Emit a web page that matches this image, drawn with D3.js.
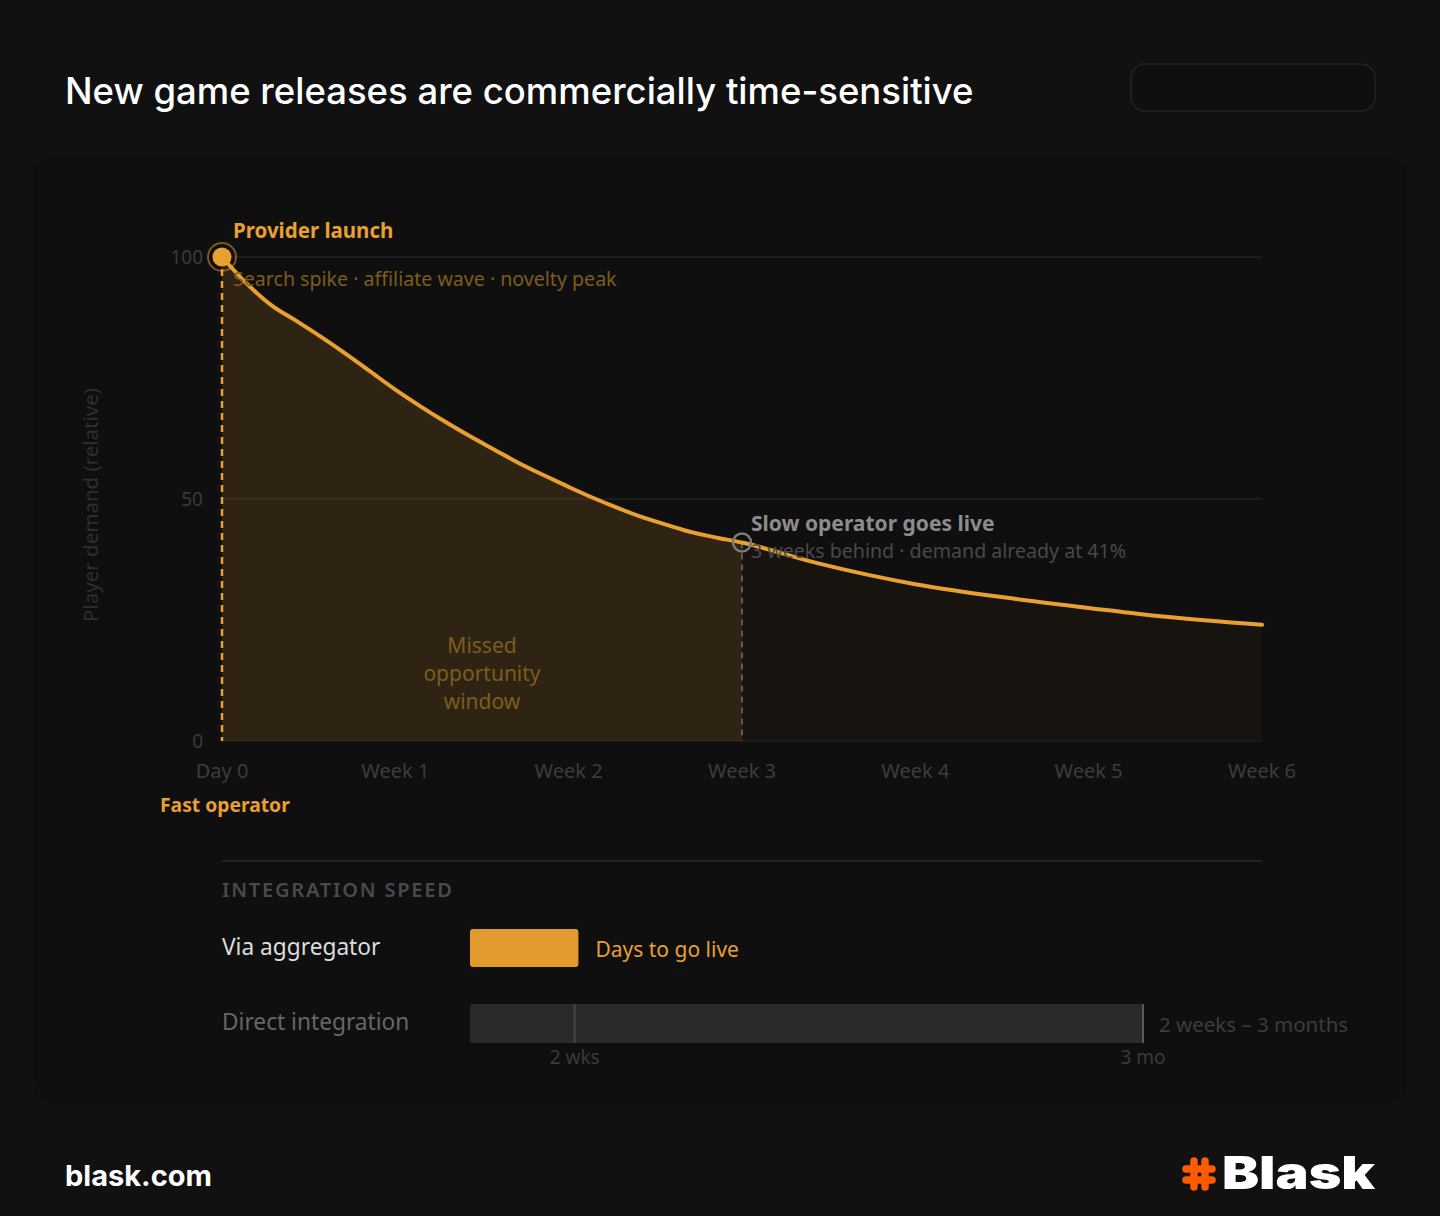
<!DOCTYPE html>
<html>
<head>
<meta charset="utf-8">
<script src="https://cdn.jsdelivr.net/npm/d3@7.9.0/dist/d3.min.js"></script>
<style>
  body { margin: 0; background: #111111; }
  svg { display: block; }
  text { font-family: "Noto Sans", "Open Sans", sans-serif; }
</style>
</head>
<body>
<svg id="chart" width="1440" height="1216"></svg>
<script>
// demand curve (day -> relative demand)
const days = [0, 1, 2, 3, 4, 5, 6, 7, 8, 9, 10, 11, 12, 13, 14, 15, 16, 17, 18, 19, 20, 21, 24, 28, 32, 35, 38, 42];
const demand = [100, 94.5, 90, 86.8, 83.5, 80, 76.3, 72.6, 69.2, 66, 63, 60.2, 57.4, 54.9, 52.5, 50.2, 48.1, 46.2, 44.6, 43.1, 42, 41, 36.8, 32.4, 29.4, 27.5, 25.7, 24];
const weekTicks = [0, 7, 14, 21, 28, 35, 42];
const weekLabels = ['Day 0', 'Week 1', 'Week 2', 'Week 3', 'Week 4', 'Week 5', 'Week 6'];
const yTicks = [0, 50, 100];
const launchDay = 0;
const slowDay = 21;

// integration speed, in days
const speedRows = ['Via aggregator', 'Direct integration'];
const aggregatorDays = [0, 14.5];
const directDays = [0, 90];
const directMarks = [14, 90];
const directMarkLabels = ['2 wks', '3 mo'];

const orange = '#e8a030';
const svg = d3.select('#chart');

// card
svg.append('rect')
  .attr('x', 33).attr('y', 157).attr('width', 1374).attr('height', 945)
  .attr('rx', 18).attr('fill', '#0f0f0f');

// title + badge
svg.append('text')
  .attr('x', 65).attr('y', 104)
  .attr('fill', '#ffffff')
  .style('font-family', 'Inter, "Noto Sans", sans-serif')
  .style('font-size', '36.5px').style('font-weight', 500)
  .text('New game releases are commercially time-sensitive');

svg.append('rect')
  .attr('x', 1131).attr('y', 64).attr('width', 244).attr('height', 47)
  .attr('rx', 14).attr('fill', '#0f0f0f').attr('stroke', '#232323').attr('stroke-width', 1.5);

const x = d3.scaleLinear().domain([0, 42]).range([222, 1262]);
const y = d3.scaleLinear().domain([0, 100]).range([741, 257]);

const data = days.map((d, i) => ({ day: d, value: demand[i] }));

// grid
svg.append('g')
  .selectAll('line')
  .data(yTicks)
  .join('line')
  .attr('x1', x(0)).attr('x2', x(42))
  .attr('y1', (d) => y(d)).attr('y2', (d) => y(d))
  .attr('stroke', (d) => d === 0 ? '#1c1c1c' : '#222222')
  .attr('stroke-width', 1.5);

svg.append('g')
  .selectAll('text')
  .data(yTicks)
  .join('text')
  .attr('x', 203).attr('y', (d) => y(d) + 7)
  .attr('text-anchor', 'end')
  .attr('fill', '#3a3a3a')
  .style('font-size', '19px')
  .text((d) => d);

svg.append('g')
  .selectAll('text')
  .data(weekTicks)
  .join('text')
  .attr('x', (d) => x(d)).attr('y', 778)
  .attr('text-anchor', 'middle')
  .attr('fill', '#3c3c3c')
  .style('font-size', '20px')
  .text((d, i) => weekLabels[i]);

svg.append('text')
  .attr('transform', 'translate(98,505) rotate(-90)')
  .attr('text-anchor', 'middle')
  .attr('fill', '#2e2e2e')
  .style('font-size', '20.5px')
  .text('Player demand (relative)');

// areas
const defs = svg.append('defs');
defs.append('clipPath').attr('id', 'clip-missed')
  .append('rect').attr('x', x(0)).attr('y', 0).attr('width', x(slowDay) - x(0)).attr('height', 1216);
defs.append('clipPath').attr('id', 'clip-rest')
  .append('rect').attr('x', x(slowDay)).attr('y', 0).attr('width', x(42) - x(slowDay)).attr('height', 1216);

const area = d3.area()
  .x((d) => x(d.day))
  .y0(y(0))
  .y1((d) => y(d.value))
  .curve(d3.curveMonotoneX);

svg.append('path').datum(data)
  .attr('d', area).attr('fill', orange).attr('fill-opacity', 0.15)
  .attr('clip-path', 'url(#clip-missed)');
svg.append('path').datum(data)
  .attr('d', area).attr('fill', orange).attr('fill-opacity', 0.04)
  .attr('clip-path', 'url(#clip-rest)');

// dashed markers
svg.append('line')
  .attr('x1', x(launchDay)).attr('x2', x(launchDay))
  .attr('y1', y(100)).attr('y2', y(0))
  .attr('stroke', orange).attr('stroke-width', 2.5).attr('stroke-dasharray', '7,5');

const slowValue = demand[days.indexOf(slowDay)];
svg.append('line')
  .attr('x1', x(slowDay)).attr('x2', x(slowDay))
  .attr('y1', y(slowValue)).attr('y2', y(0))
  .attr('stroke', '#5a5a5a').attr('stroke-width', 2).attr('stroke-dasharray', '6,5');

// curve
const line = d3.line()
  .x((d) => x(d.day))
  .y((d) => y(d.value))
  .curve(d3.curveMonotoneX);

svg.append('path').datum(data)
  .attr('d', line)
  .attr('fill', 'none')
  .attr('stroke', orange).attr('stroke-width', 4)
  .attr('stroke-linecap', 'round');

// points
svg.append('circle')
  .attr('cx', x(launchDay)).attr('cy', y(100)).attr('r', 14)
  .attr('fill', 'none').attr('stroke', orange).attr('stroke-opacity', 0.5).attr('stroke-width', 2);
svg.append('circle')
  .attr('cx', x(launchDay)).attr('cy', y(100)).attr('r', 9.5)
  .attr('fill', orange);
svg.append('circle')
  .attr('cx', x(slowDay)).attr('cy', y(slowValue)).attr('r', 9)
  .attr('fill', 'none').attr('stroke', '#7a7a7a').attr('stroke-width', 2.5);

// annotations
svg.append('text')
  .attr('x', 233).attr('y', 238)
  .attr('fill', orange)
  .style('font-size', '20.5px').style('font-weight', 700)
  .text('Provider launch');
svg.append('text')
  .attr('x', 233).attr('y', 286)
  .attr('fill', '#7d5c1c')
  .style('font-size', '19.6px')
  .text('Search spike · affiliate wave · novelty peak');

svg.append('text')
  .attr('x', 751).attr('y', 531)
  .attr('fill', '#8c8c8c')
  .style('font-size', '21px').style('font-weight', 700)
  .text('Slow operator goes live');
svg.append('text')
  .attr('x', 751).attr('y', 558)
  .attr('fill', '#484848')
  .style('font-size', '19.6px')
  .text(`3 weeks behind · demand already at ${slowValue}%`);

svg.append('text')
  .attr('x', x(10.5)).attr('y', 653)
  .attr('text-anchor', 'middle')
  .attr('fill', '#7d5c1c')
  .style('font-size', '21px')
  .selectAll('tspan')
  .data(['Missed', 'opportunity', 'window'])
  .join('tspan')
  .attr('x', x(10.5))
  .attr('dy', (d, i) => i === 0 ? 0 : 28)
  .text((d) => d);

svg.append('text')
  .attr('x', 160).attr('y', 812)
  .attr('fill', orange)
  .style('font-size', '19.3px').style('font-weight', 700)
  .text('Fast operator');

// integration speed
svg.append('line')
  .attr('x1', 222).attr('x2', 1262).attr('y1', 861).attr('y2', 861)
  .attr('stroke', '#222222').attr('stroke-width', 2);

svg.append('text')
  .attr('x', 222).attr('y', 897)
  .attr('fill', '#4a4a4a')
  .style('font-size', '20px').style('font-weight', 600).style('letter-spacing', '1.8px')
  .text('INTEGRATION SPEED');

const s = d3.scaleLinear().domain([0, 90]).range([470, 1143]);
const rowY = d3.scaleBand().domain(speedRows).range([929, 1043]).paddingInner(0.95);

svg.append('text')
  .attr('x', 222).attr('y', 955)
  .attr('fill', '#dddddd')
  .style('font-size', '22.7px')
  .text(speedRows[0]);
svg.append('text')
  .attr('x', 222).attr('y', 1030)
  .attr('fill', '#666666')
  .style('font-size', '22.7px')
  .text(speedRows[1]);

svg.append('rect')
  .attr('x', s(aggregatorDays[0])).attr('y', rowY(speedRows[0]))
  .attr('width', s(aggregatorDays[1]) - s(aggregatorDays[0])).attr('height', 38)
  .attr('rx', 3).attr('fill', '#e09a2e');
svg.append('text')
  .attr('x', s(aggregatorDays[1]) + 17).attr('y', 957)
  .attr('fill', orange)
  .style('font-size', '21px')
  .text('Days to go live');

svg.append('rect')
  .attr('x', s(directDays[0])).attr('y', 1004)
  .attr('width', s(directDays[1]) - s(directDays[0])).attr('height', 39)
  .attr('rx', 3).attr('fill', '#2a2a2a');

svg.append('g')
  .selectAll('line')
  .data(directMarks)
  .join('line')
  .attr('x1', (d) => s(d)).attr('x2', (d) => s(d))
  .attr('y1', 1004).attr('y2', 1043)
  .attr('stroke', (d, i) => i === 0 ? '#444444' : '#5a5a5a')
  .attr('stroke-width', 2);

svg.append('g')
  .selectAll('text')
  .data(directMarks)
  .join('text')
  .attr('x', (d) => s(d)).attr('y', 1064)
  .attr('text-anchor', 'middle')
  .attr('fill', '#3a3a3a')
  .style('font-size', '19px')
  .text((d, i) => directMarkLabels[i]);

svg.append('text')
  .attr('x', s(directDays[1]) + 16).attr('y', 1032)
  .attr('fill', '#3c3c3c')
  .style('font-size', '20.5px')
  .text('2 weeks – 3 months');

// footer
svg.append('text')
  .attr('x', 65).attr('y', 1186)
  .attr('fill', '#ffffff')
  .style('font-family', 'Inter, "Noto Sans", sans-serif')
  .style('font-size', '29px').style('font-weight', 700)
  .text('blask.com');

const logo = svg.append('g').attr('transform', 'translate(1199,1174)');
const hash = [[-5, -13, -5, 13], [6, -13, 6, 13], [-13, -5, 13, -5], [-13, 6, 13, 6]];
logo.selectAll('line')
  .data(hash)
  .join('line')
  .attr('x1', (d) => d[0]).attr('y1', (d) => d[1])
  .attr('x2', (d) => d[2]).attr('y2', (d) => d[3])
  .attr('stroke', '#ff5a00').attr('stroke-width', 7.5).attr('stroke-linecap', 'round');

svg.append('text')
  .attr('x', 1222).attr('y', 1189)
  .attr('fill', '#ffffff')
  .attr('textLength', 153).attr('lengthAdjust', 'spacingAndGlyphs')
  .style('font-family', 'Inter, "Noto Sans", sans-serif')
  .style('font-size', '45px').style('font-weight', 900)
  .text('Blask');
</script>
</body>
</html>
